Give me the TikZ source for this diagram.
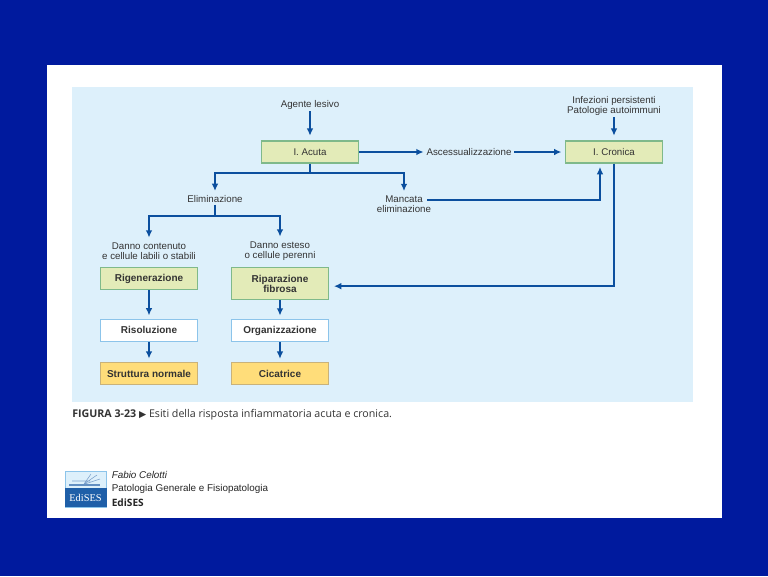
\documentclass[tikz,border=0pt]{standalone}
\usepackage{fontspec}
\setmainfont{Liberation Sans}
\newfontfamily\captionfont{Open Sans}
\newfontfamily\logofont{Liberation Serif}
\newfontfamily\symbolfont{DejaVu Sans}
\usetikzlibrary{arrows.meta, positioning}
\definecolor{slideblue}{HTML}{001A9E}
\definecolor{panelblue}{HTML}{DDF0FB}
\definecolor{linkblue}{HTML}{0B4F9E}
\definecolor{boxgreen}{HTML}{E3EBB8}
\definecolor{edgegreen}{HTML}{7FB98A}
\definecolor{boxorange}{HTML}{FFDD7A}
\definecolor{edgeorange}{HTML}{C9B27A}
\definecolor{edgewhite}{HTML}{8CC4EA}
\definecolor{textgrey}{HTML}{333333}
\definecolor{logoblue}{HTML}{1F5FA8}

\begin{document}
\begin{tikzpicture}[
    x=.75pt, y=-.75pt,
    box/.style={rectangle, draw, line width=.9pt, minimum width=73pt, minimum height=16.5pt, align=center, inner sep=1pt, text=textgrey},
    acute/.style={box, fill=boxgreen, draw=edgegreen, font=\fontsize{7.3}{7.6}\selectfont},
    heal/.style={box, fill=boxgreen, draw=edgegreen, font=\fontsize{7.5}{7.6}\selectfont\bfseries},
    plain/.style={box, fill=white, draw=edgewhite, font=\fontsize{7.5}{7.6}\selectfont\bfseries},
    outcome/.style={box, fill=boxorange, draw=edgeorange, font=\fontsize{7.5}{7.6}\selectfont\bfseries},
    label/.style={align=center, inner sep=1pt, text=textgrey, font=\fontsize{7.3}{7.6}\selectfont},
    credit/.style={anchor=west, inner sep=0pt, text=black!85, font=\fontsize{7.4}{8}\selectfont},
    arrow/.style={-{Latex[length=5.5pt,width=5pt]}, line width=1.2pt, draw=linkblue, shorten >=2.5pt}
]
\useasboundingbox (0,0) rectangle (768,576);

% slide and panels
\fill[slideblue] (0,0) rectangle (768,576);
\fill[white] (47,65) rectangle (722,518);
\fill[panelblue] (72,87) rectangle (693,402);

% top row
\node[label] (agente) at (310,105) {Agente lesivo};
\node[label] (infezioni) at (614,106) {Infezioni persistenti\\Patologie autoimmuni};
\node[acute] (acuta) at (310,152) {I. Acuta};
\node[acute] (cronica) at (614,152) {I. Cronica};
\node[label, inner sep=2pt] (ascesso) at (469,152) {Ascessualizzazione};

% middle row
\node[label] (elim) at (215,199.5) {Eliminazione};
\node[label] (mancata) at (404,204.5) {Mancata\\eliminazione};
\node[label] (contenuto) at (149,251) {Danno contenuto\\e cellule labili o stabili};
\node[label] (esteso) at (280,251) {Danno esteso\\o cellule perenni};

% left column
\node[heal] (rigen) at (149,278.5) {Rigenerazione};
\node[plain, below=21.5pt of rigen] (risol) {Risoluzione};
\node[outcome, below=15pt of risol] (normale) {Struttura normale};

% right column
\node[heal, minimum height=24.25pt] (ripar) at (280,283.5) {Riparazione\\fibrosa};
\node[plain, below=14pt of ripar] (organ) {Organizzazione};
\node[outcome, below=15pt of organ] (cicatrice) {Cicatrice};

\coordinate (acutasplit) at (310,173);
\coordinate (elimsplit) at (215,216);
\coordinate (mancataout) at (427,200);

\draw[arrow, shorten >=3.5pt] (agente) -- (acuta);
\draw[arrow, shorten >=3.5pt] (infezioni) -- (cronica);
\draw[arrow, shorten >=0pt] (acuta) -- (ascesso);
\draw[arrow] (ascesso) -- (cronica);
\draw[arrow] (acuta.south) -- (acutasplit) -| (mancata.north);
\draw[arrow] (acutasplit) -| (elim.north);
\draw[arrow] (mancataout) -| ([xshift=-10.5pt]cronica.south);
\draw[arrow, shorten >=3.5pt] (cronica.south) |- ([yshift=-2pt]ripar.east);
\draw[arrow] (elim.south) -- (elimsplit) -| (contenuto.north);
\draw[arrow] (elimsplit) -| (esteso.north);
\draw[arrow] (rigen) -- (risol);
\draw[arrow] (risol) -- (normale);
\draw[arrow] (ripar) -- (organ);
\draw[arrow] (organ) -- (cicatrice);

% caption
\node[anchor=west, inner sep=0pt, text=textgrey, font=\fontsize{8}{8}\captionfont\selectfont] (caption) at (72,415) {{\bfseries FIGURA 3-23} {\symbolfont\fontsize{7}{8}\selectfont ▶} Esiti della risposta infiammatoria acuta e cronica.};

% logo
\fill[panelblue] (65,471) rectangle (106.5,507);
\draw[edgewhite, line width=.6pt] (65,471) rectangle (106.5,507);
\fill[logoblue] (65,488) rectangle (106.5,507);
\fill[logoblue!70] (69,484) rectangle (100,486);
\draw[logoblue!60, line width=.4pt] (84,484) -- (97,475) (85,484) -- (100,479) (84,484) -- (91,474) (72,481) -- (90,481);
\node[inner sep=0pt, text=white, font=\fontsize{7.8}{8}\logofont\selectfont] (logo) at (85.5,498) {EdiSES};

% credits
\node[credit, font=\fontsize{7.4}{8}\selectfont\itshape] (autore) at (111.5,475) {Fabio Celotti};
\node[credit] (titolo) at (111.5,488.5) {Patologia Generale e Fisiopatologia};
\node[credit, font=\fontsize{7.6}{8}\captionfont\selectfont\bfseries] (editore) at (111.5,503) {EdiSES};
\end{tikzpicture}
\end{document}
